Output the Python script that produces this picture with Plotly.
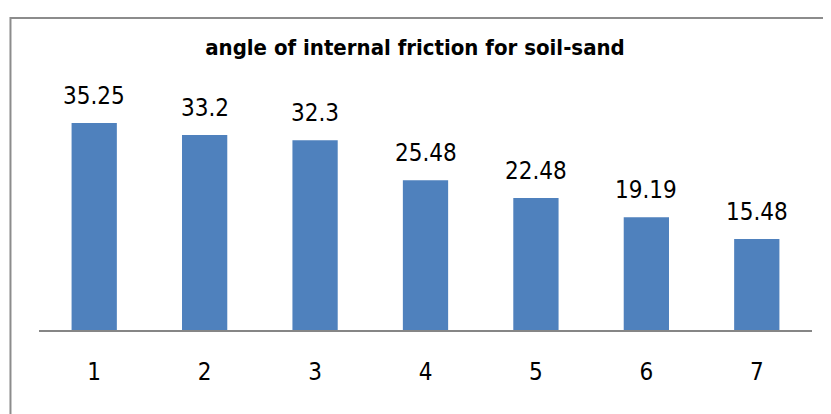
import plotly.graph_objects as go

categories = ["1", "2", "3", "4", "5", "6", "7"]
values = [35.25, 33.2, 32.3, 25.48, 22.48, 19.19, 15.48]
labels = ["35.25", "33.2", "32.3", "25.48", "22.48", "19.19", "15.48"]

FONT = "DejaVu Sans Condensed, Liberation Sans Narrow, Arial Narrow, sans-serif"

fig = go.Figure()
fig.add_trace(go.Bar(x=categories, y=values, marker=dict(color="#4F81BD", line=dict(width=0)),
                     hoverinfo="skip"))

for i, (v, t) in enumerate(zip(values, labels)):
    fig.add_annotation(x=i, y=v, text=t, showarrow=False, yanchor="bottom", yshift=11,
                       font=dict(family=FONT, size=24, color="#000000"))

fig.add_shape(type="rect", xref="paper", yref="paper", x0=-0.0369, x1=1.1, y0=-0.6, y1=1.3277,
              line=dict(color="#8c8c8c", width=2), fillcolor="rgba(0,0,0,0)", layer="below")

fig.update_layout(
    width=831, height=414,
    margin=dict(l=31, r=27, t=87, b=92),
    paper_bgcolor="white", plot_bgcolor="white",
    bargap=0.59,
    showlegend=False,
    title=dict(text="<b>angle of internal friction for soil-sand</b>", x=(415 - 8 - 31) / 773,
               xref="paper", xanchor="center",
               y=1 - 39 / 414, yanchor="middle",
               font=dict(family=FONT, size=22, color="#000000")),
    xaxis=dict(range=[-0.5, 6.5], autorange=False, showline=True, linecolor="#868686", linewidth=2,
               ticks="", showgrid=False,
               tickfont=dict(family=FONT, size=24, color="#000000"), ticklabelstandoff=19),
    yaxis=dict(range=[0, 40], visible=False, showgrid=False, zeroline=False),
)

fig.write_html("out.html")
